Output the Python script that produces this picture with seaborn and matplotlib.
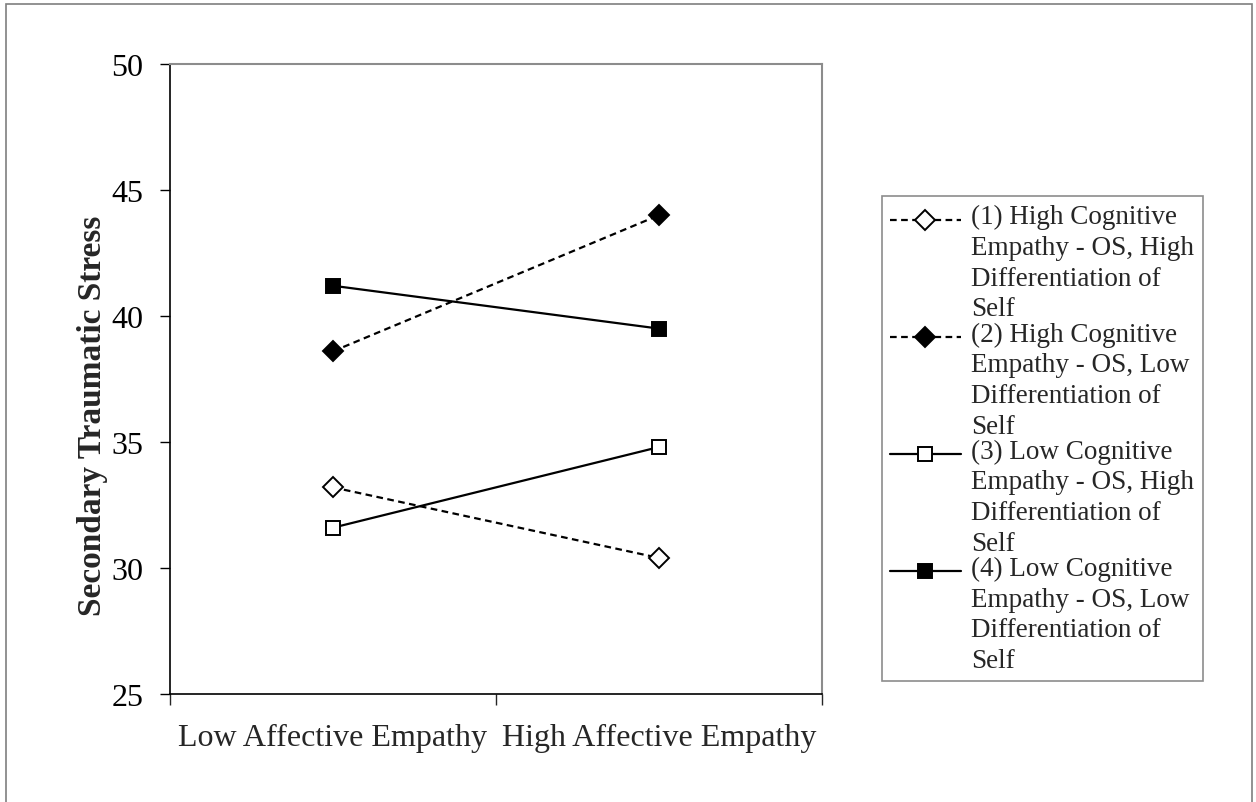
import numpy as np
import pandas as pd
import matplotlib.pyplot as plt
import seaborn as sns
from matplotlib.patches import Rectangle
from matplotlib.legend_handler import HandlerLine2D

# data
levels = ["Low Affective Empathy", "High Affective Empathy"]
s1 = [33.2, 30.4]   # (1) high cog. empathy, high DoS
s2 = [38.6, 44.0]   # (2) high cog. empathy, low DoS
s3 = [31.6, 34.8]   # (3) low cog. empathy, high DoS
s4 = [41.2, 39.5]   # (4) low cog. empathy, low DoS
labels = ["(1) High Cognitive\nEmpathy - OS, High\nDifferentiation of\nSelf",
          "(2) High Cognitive\nEmpathy - OS, Low\nDifferentiation of\nSelf",
          "(3) Low Cognitive\nEmpathy - OS, High\nDifferentiation of\nSelf",
          "(4) Low Cognitive\nEmpathy - OS, Low\nDifferentiation of\nSelf"]
y_ticks = [25, 30, 35, 40, 45, 50]

sns.set_style("white")
plt.rcParams["font.family"] = ["Liberation Serif", "DejaVu Serif"]

fig = plt.figure(figsize=(12.56, 8.03), dpi=100)
ax = fig.add_axes([170/1256, 1-695/803, 652/1256, 630/803])

styles = [
    dict(ls=(0, (3, 2)), marker="D", mfc="white"),
    dict(ls=(0, (3, 2)), marker="D", mfc="black"),
    dict(ls="-", marker="s", mfc="white"),
    dict(ls="-", marker="s", mfc="black"),
]
for vals, lab, st in zip([s1, s2, s3, s4], labels, styles):
    df = pd.DataFrame({"level": levels, "sts": vals})
    sns.lineplot(data=df, x="level", y="sts", ax=ax, color="black", lw=1.6,
                 linestyle=st["ls"], marker=st["marker"], mfc=st["mfc"],
                 mec="black", mew=1.4, ms=10 if st["marker"] == "D" else 10.5,
                 sort=False, label=lab)

ax.set_xlim(-0.5, 1.5)
ax.set_ylim(25, 50)
ax.set_yticks(y_ticks)
ax.tick_params(axis="y", labelsize=23, length=7, width=1, direction="out",
               left=True, pad=12, colors="black")
ax.set_xticks([-0.5, 0.5, 1.5])
ax.set_xticklabels([])
ax.set_xticks([0, 1], minor=True)
ax.set_xticklabels(levels, minor=True)
ax.tick_params(axis="x", which="major", length=8, width=1, bottom=True, direction="out")
ax.tick_params(axis="x", which="minor", length=0, labelsize=23, pad=21)
ax.set_xlabel("")
ax.set_ylabel("Secondary Traumatic Stress", fontsize=24, fontweight="bold")
ax.yaxis.label.set_va("center")
ax.yaxis.set_label_coords((93-170)/652, (695-416)/630)

for side in ["left", "bottom"]:
    ax.spines[side].set_color("black")
    ax.spines[side].set_linewidth(1.2)
for side in ["top", "right"]:
    ax.spines[side].set_color("#8c8c8c")
    ax.spines[side].set_linewidth(1.5)


class TopHandler(HandlerLine2D):
    # put the handle next to the first text line, like Excel does
    def __init__(self, shift, **kw):
        super().__init__(**kw)
        self.shift = shift

    def create_artists(self, legend, orig_handle, xdescent, ydescent, width,
                       height, fontsize, trans):
        arts = super().create_artists(legend, orig_handle, xdescent, ydescent,
                                      width, height, fontsize, trans)
        for a in arts:
            a.set_ydata(np.asarray(a.get_ydata()) + self.shift)
        return arts


handles, labs = ax.get_legend_handles_labels()
leg = ax.legend(handles, labs, loc="upper left",
                bbox_to_anchor=(882/1256, 1-197/803), bbox_transform=fig.transFigure,
                fontsize=19.5, frameon=True, fancybox=False, edgecolor="#8c8c8c",
                framealpha=1, borderaxespad=0, borderpad=0.3, labelspacing=0.0,
                handlelength=2.6, handletextpad=0.4,
                handler_map={h: TopHandler(shift=31) for h in handles})
leg.get_frame().set_linewidth(1.2)
for t in leg.get_texts():
    t.set_linespacing(1.3)

# outer chart border (bottom edge is cut off in the reference)
fig.patches.append(Rectangle((6/1256, -0.1), 1246/1256, 1.1 - 5/803,
                             transform=fig.transFigure, fill=False,
                             edgecolor="#7f7f7f", lw=1.2))

fig.savefig("out.png", dpi=100)
